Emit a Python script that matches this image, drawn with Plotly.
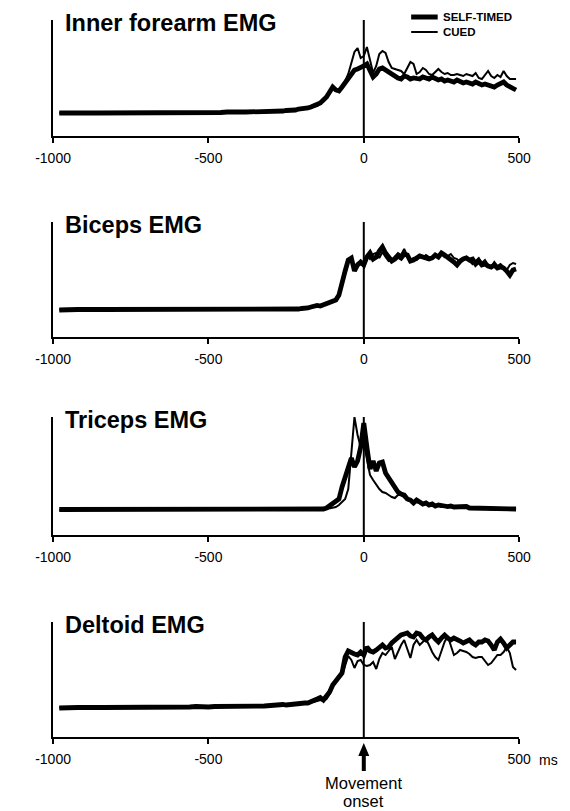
import plotly.graph_objects as go

W, H = 570, 811

# time axis (ms): 20 ms bins in the quiet baseline, 10 ms bins around movement
T = list(range(-980, -300, 20)) + list(range(-300, 491, 10))

tick_vals = [-1000, -500, 0, 500]
tick_text = ["-1000", "-500", "0", "500"]

titles = ["Inner forearm EMG", "Biceps EMG", "Triceps EMG", "Deltoid EMG"]
legend_labels = ["SELF-TIMED", "CUED"]

forearm_self = [23, 22.5, 23, 23, 22.5, 23, 23, 23, 22.5, 23,
                23, 23.5, 23, 23, 23, 23, 23.5, 23, 23, 23.5,
                23, 23.5, 23.5, 23, 23.5, 23.5, 23.5, 24, 23.5, 24,
                24, 24, 24.5, 24,
                24.5, 24.5, 25, 25, 25, 25.5, 25.5, 26, 26, 27,
                27, 28, 28, 29, 30, 31, 33, 36, 39, 44,
                49, 46, 45, 49, 53, 58, 62, 66, 67, 68,
                70, 72, 66, 59, 62, 67, 68, 66, 63, 61,
                59, 58, 57, 60, 59, 57, 58, 58, 57, 59,
                58, 57, 59, 58, 56, 57, 55, 56, 55, 54,
                56, 54, 53, 54, 53, 52, 54, 53, 51, 52,
                51, 50, 49, 51, 52, 54, 51, 49, 47, 46]
forearm_cued = [23, 23, 22.5, 23, 23, 23, 22.5, 23, 23, 23,
                23, 23, 23.5, 23, 23, 23.5, 23, 23, 23.5, 23.5,
                23, 23, 23.5, 23.5, 23.5, 23.5, 24, 23.5, 24, 24,
                24, 24, 24, 24.5,
                24.5, 24.5, 24.5, 25, 25, 25, 25.5, 26, 26, 26.5,
                27, 27.5, 28, 28.5, 29, 30, 32, 35, 38, 43,
                48, 46, 46, 50, 55, 62, 74, 84, 88, 78,
                80, 89, 76, 63, 70, 82, 85, 83, 74, 68,
                67, 66, 65, 62, 68, 74, 72, 62, 64, 68,
                66, 62, 61, 64, 67, 64, 62, 63, 61, 61,
                62, 61, 60, 62, 61, 60, 63, 58, 57, 61,
                65, 60, 58, 61, 59, 65, 60, 57, 57, 57]

biceps_self = [27, 27.5, 27, 27.5, 27.5, 27, 27.5, 27.5, 27.5, 27,
               27.5, 27.5, 27.5, 27.5, 27, 27.5, 27.5, 27.5, 27.5, 27.5,
               27.5, 28, 27.5, 27.5, 27.5, 27.5, 27.5, 28, 27.5, 27.5,
               27.5, 27.5, 27.5, 27.5,
               27.5, 27.5, 27.5, 27.5, 28, 27.5, 28, 28, 28, 28,
               28.5, 28.5, 29, 30, 31, 31.5, 31, 32, 34, 35,
               36, 37, 42, 52, 66, 77, 79, 66, 72, 75,
               72, 80, 84, 78, 80, 86, 90, 84, 80, 76,
               78, 81, 79, 83, 82, 76, 77, 79, 81, 80,
               79, 78, 79, 82, 80, 84, 82, 80, 77, 75,
               72, 76, 78, 79, 77, 78, 73, 76, 72, 73,
               71, 70, 72, 69, 70, 69, 66, 62, 67, 68]
biceps_cued = [27.5, 27, 27.5, 27, 27.5, 27.5, 27.5, 27, 27.5, 27.5,
               27.5, 27, 27.5, 27.5, 27.5, 27.5, 27, 27.5, 27.5, 27.5,
               28, 27.5, 27.5, 27.5, 28, 27.5, 27.5, 27.5, 27.5, 28,
               27.5, 27.5, 27.5, 27.5,
               27.5, 27.5, 27.5, 28, 27.5, 28, 28, 28, 28, 28.5,
               28.5, 29, 29, 30, 31, 31, 31, 32, 33, 34,
               36, 38, 44, 55, 68, 75, 76, 70, 74, 73,
               71, 82, 78, 83, 84, 79, 85, 80, 76, 77,
               80, 84, 82, 88, 81, 77, 79, 77, 80, 79,
               82, 80, 79, 81, 80, 83, 80, 81, 83, 79,
               78, 74, 77, 80, 76, 73, 76, 79, 74, 77,
               72, 70, 75, 71, 73, 70, 67, 72, 74, 73]

triceps_self = [25.5, 25.5, 25, 25.5, 25.5, 25.5, 25, 25.5, 25.5, 25.5,
                25.5, 25, 25.5, 25.5, 25.5, 25.5, 25.5, 25, 25.5, 25.5,
                25.5, 25.5, 25.5, 25.5, 25, 25.5, 25.5, 25.5, 25.5, 25.5,
                25.5, 25.5, 25.5, 25.5,
                25.5, 25.5, 25.5, 25.5, 25.5, 25.5, 25.5, 25.5, 25.5, 25.5,
                25.5, 25.5, 25.5, 25.5, 25.5, 25.5, 26, 26, 27, 29,
                31, 33, 36, 48, 58, 67, 77, 68, 74, 88,
                112, 88, 66, 74, 64, 72, 73, 62, 57, 53,
                46, 43, 41, 40, 36, 35, 32, 35, 33, 31,
                32, 30, 31, 29, 30, 29, 29, 28.5, 29, 28,
                28, 28.5, 28, 28.5, 27, 27, 26.5, 27, 26.5, 26,
                26.5, 26, 26, 26, 26, 26, 26, 26, 26, 26]
triceps_cued = [25, 25.5, 25.5, 25.5, 25, 25.5, 25.5, 25.5, 25.5, 25,
                25.5, 25.5, 25.5, 25.5, 25, 25.5, 25.5, 25.5, 25.5, 25.5,
                25, 25.5, 25.5, 25.5, 25.5, 25.5, 25, 25.5, 25.5, 25.5,
                25.5, 25.5, 25.5, 25.5,
                25.5, 25.5, 25.5, 25.5, 25.5, 25.5, 25.5, 25.5, 25.5, 25.5,
                25.5, 25.5, 25.5, 25.5, 25.5, 25.5, 25.5, 25.5, 26, 26.5,
                27, 28, 30, 33, 36, 46, 80, 118, 100, 88,
                92, 75, 60, 55, 50, 46, 43, 42, 40, 38,
                37, 40, 40, 37, 35, 34, 32, 33, 32, 30,
                31, 30, 29, 29, 29, 28, 28.5, 28, 27.5, 28,
                27, 28, 27.5, 27, 26.5, 27, 26, 26.5, 26, 26,
                26, 25.5, 26, 26, 25.5, 26, 25.5, 26, 26, 26]

deltoid_self = [29, 29.5, 29, 29.5, 29.5, 29, 29.5, 29.5, 29.5, 29,
                29.5, 29.5, 30, 29.5, 29.5, 30, 29.5, 30, 30, 29.5,
                30, 30, 30.5, 30, 30, 30.5, 30.5, 30, 30.5, 31,
                30.5, 31, 31, 31,
                31.5, 32, 31.5, 32, 32.5, 32, 32.5, 33, 33, 33.5,
                33.5, 34, 34, 35, 36, 38, 39.5, 37, 41, 45,
                52, 57, 60, 64, 80, 86, 84, 83, 82, 85,
                82, 90, 86, 85, 87, 89, 92, 89, 90, 94,
                97, 100, 102, 103, 104, 101, 100, 104, 103, 99,
                97, 100, 102, 98, 95, 99, 102, 99, 97, 99,
                98, 96, 94, 96, 97, 94, 92, 95, 95, 97,
                96, 92, 87, 95, 98, 94, 89, 92, 95, 95]
deltoid_cued = [29.5, 29, 29.5, 29, 29.5, 29.5, 29, 29.5, 29, 29.5,
                29.5, 29.5, 29.5, 30, 29.5, 29.5, 30, 29.5, 30, 30,
                30, 29.5, 30, 30.5, 30.5, 30, 30.5, 30.5, 30.5, 30.5,
                31, 30.5, 31, 31,
                31, 31.5, 31.5, 32, 32, 32.5, 32, 32.5, 33, 33,
                33.5, 33.5, 34, 34.5, 35, 36, 37, 36, 38, 43,
                50, 55, 59, 62, 72, 81, 77, 69, 76, 77,
                72, 71, 72, 75, 68, 78, 84, 82, 86, 90,
                78, 86, 92, 97, 88, 79, 92, 97, 92, 95,
                98, 92, 85, 80, 77, 86, 95, 101, 92, 82,
                84, 87, 86, 85, 83, 80, 79, 80, 80, 76,
                72, 74, 78, 82, 82, 85, 90, 84, 70, 67]

series = [(forearm_self, forearm_cued), (biceps_self, biceps_cued),
          (triceps_self, triceps_cued), (deltoid_self, deltoid_cued)]
for s, c in series:
    assert len(s) == len(T) and len(c) == len(T), (len(s), len(c), len(T))

# ---- layout geometry (pixels) ----
X_LEFT, X_RIGHT = 37, 529
panel_px = [(20, 136), (222, 337), (417, 535), (622, 737)]  # (top, bottom)
FONT = "Liberation Sans, Arial, sans-serif"


def px(x):
    return x / W


def py(y):
    return 1 - y / H


fig = go.Figure()
layout = dict(
    width=W, height=H, autosize=False,
    margin=dict(l=0, r=0, t=0, b=0),
    paper_bgcolor="white", plot_bgcolor="white",
    showlegend=False,
    font=dict(family=FONT, color="black"),
    shapes=[], annotations=[],
)

for i, ((top, bot), title, (s_vals, c_vals)) in enumerate(zip(panel_px, titles, series)):
    n = "" if i == 0 else str(i + 1)
    hgt = bot - top
    fig.add_trace(go.Scatter(x=T, y=c_vals, mode="lines", xaxis="x" + n, yaxis="y" + n,
                             line=dict(color="black", width=2), name=legend_labels[1]))
    fig.add_trace(go.Scatter(x=T, y=s_vals, mode="lines", xaxis="x" + n, yaxis="y" + n,
                             line=dict(color="black", width=4.8), name=legend_labels[0]))
    last = i == 3
    tv = [v for v in tick_vals if not (last and v == 0)]
    tt = [t for v, t in zip(tick_vals, tick_text) if not (last and v == 0)]
    layout["xaxis" + n] = dict(
        domain=[px(X_LEFT), px(X_RIGHT)], range=[-1000, 500], anchor="y" + n,
        showline=True, linecolor="black", linewidth=2,
        ticks="outside", ticklen=5, tickwidth=2, tickcolor="black",
        tickvals=tv, ticktext=tt, tickfont=dict(size=14, family=FONT, color="black"),
        ticklabelstandoff=3,
        showgrid=False, zeroline=False,
    )
    layout["yaxis" + n] = dict(
        domain=[py(bot), py(top)], range=[0, hgt], anchor="x" + n,
        showline=True, linecolor="black", linewidth=2,
        showticklabels=False, ticks="", showgrid=False, zeroline=False,
    )
    # movement-onset line at t = 0
    layout["shapes"].append(dict(type="line", xref="x" + n, yref="y" + n,
                                 x0=0, x1=0, y0=0, y1=hgt,
                                 line=dict(color="black", width=2)))
    # panel title
    layout["annotations"].append(dict(
        text="<b>%s</b>" % title, xref="paper", yref="paper",
        x=px(48), y=py(top + 3), xanchor="left", yanchor="middle",
        showarrow=False, font=dict(size=23.5, family=FONT, color="black")))

# legend (top right of first panel)
for yy, wd, lab in [(17, 5, legend_labels[0]), (32, 2, legend_labels[1])]:
    layout["shapes"].append(dict(type="line", xref="paper", yref="paper",
                                 x0=px(415), x1=px(443), y0=py(yy), y1=py(yy),
                                 line=dict(color="black", width=wd)))
    layout["annotations"].append(dict(
        text="<b>%s</b>" % lab, xref="paper", yref="paper",
        x=px(447), y=py(yy), xanchor="left", yanchor="middle",
        showarrow=False, font=dict(size=11.5, family=FONT, color="black")))

# arrow marking movement onset below the last panel
layout["shapes"].append(dict(
    type="path", xref="x4", xsizemode="pixel", xanchor=0,
    yref="paper", ysizemode="pixel", yanchor=py(737),
    path="M 0,-6 L 5.5,-19 L 2,-19 L 2,-34 L -2,-34 L -2,-19 L -5.5,-19 Z",
    fillcolor="black", line=dict(color="black", width=0)))
layout["annotations"].append(dict(
    text="Movement", xref="x4", yref="paper", x=0, y=py(783),
    xanchor="center", yanchor="middle", showarrow=False, borderpad=0,
    font=dict(size=16.5, family=FONT, color="black")))
layout["annotations"].append(dict(
    text="onset", xref="x4", yref="paper", x=0, y=py(801),
    xanchor="center", yanchor="middle", showarrow=False, borderpad=0,
    font=dict(size=16.5, family=FONT, color="black")))
layout["annotations"].append(dict(
    text="ms", xref="paper", yref="paper", x=px(548), y=py(760),
    xanchor="left", yanchor="middle", showarrow=False,
    font=dict(size=14, family=FONT, color="black")))

fig.update_layout(**layout)
fig.write_html("out.html", config={"displayModeBar": False},
               post_script="document.body.style.margin='0';")
